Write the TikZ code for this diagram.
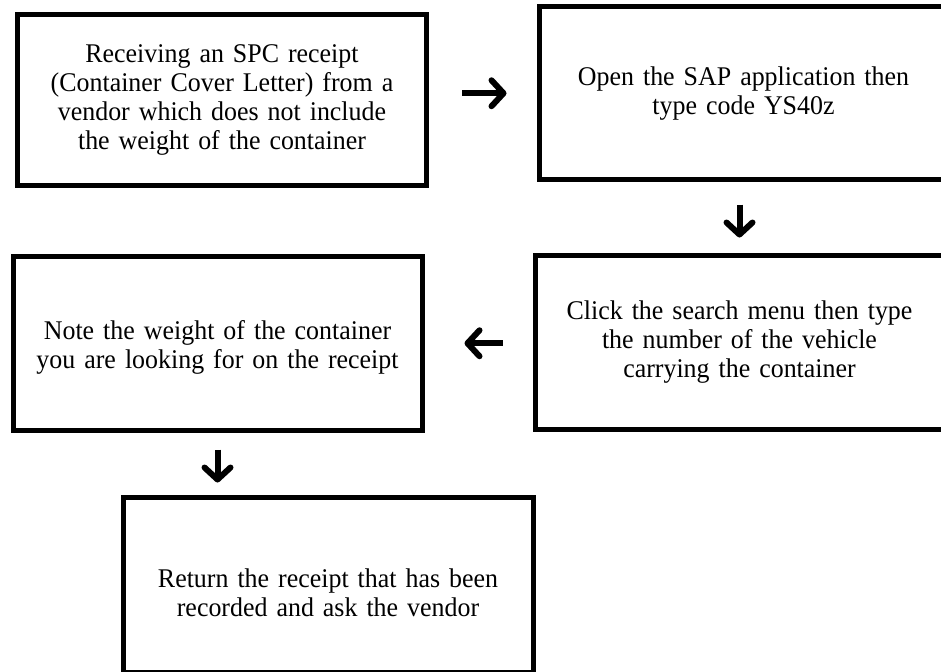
\documentclass[tikz,border=0pt]{standalone}
\usepackage{fontspec}
\setmainfont[FakeStretch=0.96]{Liberation Serif}
\usetikzlibrary{arrows.meta}

\tikzset{
  stepbox/.style={draw=black, line width=5pt, rectangle, align=center,
    minimum width=409pt, inner sep=0pt, text width=390pt,
    font=\fontsize{27pt}{29pt}\selectfont},
  flowarrow/.style={line width=6pt,
    -{Straight Barb[length=12pt,width=26pt,line width=6pt,round]}}
}

\begin{document}
\begin{tikzpicture}[x=1pt,y=-1pt]
  \useasboundingbox (0,0) rectangle (941,671);

  % process steps
  \node[stepbox, minimum height=171pt] (b1) at (222,100)
    {Receiving an SPC receipt\\(Container Cover Letter) from a\\vendor which does not include\\the weight of the container};
  \node[stepbox, minimum height=172.5pt] (b2) at (743.5,93.25)
    {Open the SAP application then\\type code YS40z};
  \node[stepbox, minimum height=174pt] (b3) at (739.5,342.5)
    {Click the search menu then type\\the number of the vehicle\\carrying the container};
  \node[stepbox, minimum height=174.5pt] (b4) at (217.5,343.25)
    {\rule{0pt}{28pt}Note the weight of the container\\you are looking for on the receipt};
  \node[stepbox, minimum height=175pt, minimum width=410pt] (b5) at (328,584.5)
    {\rule{0pt}{36pt}Return the receipt that has been\\recorded and ask the vendor};

  % flow between steps
  \draw[flowarrow, shorten <=33pt, shorten >=30pt] (b1.east |- b2.west) -- (b2.west);
  \draw[flowarrow, shorten <=22.5pt, shorten >=15.5pt] (b2.south -| b3.north) -- (b3.north);
  \draw[flowarrow, shorten <=30pt, shorten >=40pt] (b3.west |- b4.east) -- (b4.east);
  \draw[flowarrow, shorten <=16.5pt, shorten >=12pt] (b4.south) -- (b4.south |- b5.north);
\end{tikzpicture}
\end{document}
